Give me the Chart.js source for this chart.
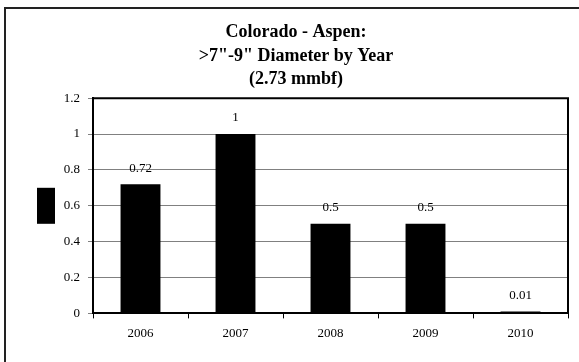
<!DOCTYPE html>
<html>
<head>
<meta charset="utf-8">
<script src="https://cdn.jsdelivr.net/npm/chart.js@4/dist/chart.umd.min.js"></script>
<style>
  html, body { margin: 0; padding: 0; background: #fff; }
  #wrap { position: relative; width: 579px; height: 362px; overflow: hidden; }
  #frame { position: absolute; left: 4px; top: 7px; width: 700px; height: 500px; border: 2px solid #222; }
  canvas { position: absolute; left: 0; top: 0; }
</style>
</head>
<body>
<div id="wrap">
  <div id="frame"></div>
  <canvas id="chart" width="579" height="362"></canvas>
</div>
<script>
// ---- data ----
const years = ['2006', '2007', '2008', '2009', '2010'];
const volumes = [0.72, 1, 0.5, 0.5, 0.01];
const volumeLabels = ['0.72', '1', '0.5', '0.5', '0.01'];
const yTickLabels = ['0', '0.2', '0.4', '0.6', '0.8', '1', '1.2'];
const titleLines = ['Colorado - Aspen:', '>7"-9" Diameter by Year', '(2.73 mmbf)'];

const serif = "'Liberation Serif', 'Times New Roman', serif";

// value labels above each bar
const barLabels = {
  id: 'barLabels',
  afterDatasetsDraw(chart) {
    const ctx = chart.ctx;
    const meta = chart.getDatasetMeta(0);
    ctx.save();
    ctx.font = '13px ' + serif;
    ctx.fillStyle = '#000';
    ctx.textAlign = 'center';
    ctx.textBaseline = 'middle';
    meta.data.forEach((bar, i) => {
      ctx.fillText(volumeLabels[i], bar.x, bar.y - 16);
    });
    ctx.restore();
  }
};

// black box round the plot area + the unlabeled legend swatch on the left
const plotFrame = {
  id: 'plotFrame',
  afterDraw(chart) {
    const a = chart.chartArea;
    const ctx = chart.ctx;
    ctx.save();
    ctx.strokeStyle = '#000';
    ctx.lineWidth = 2;
    ctx.beginPath();
    ctx.moveTo(a.left, a.top);
    ctx.lineTo(a.right, a.top);
    ctx.lineTo(a.right, a.bottom);
    ctx.stroke();
    // legend swatch (series has no name)
    const midY = (a.top + a.bottom) / 2;
    ctx.fillStyle = chart.data.datasets[0].backgroundColor;
    ctx.fillRect(a.left - 56, midY - 18, 18, 36);
    ctx.restore();
  }
};

new Chart(document.getElementById('chart').getContext('2d'), {
  type: 'bar',
  data: {
    labels: years,
    datasets: [{
      label: '',
      data: volumes,
      backgroundColor: '#000',
      borderWidth: 0,
      barPercentage: 0.42,
      categoryPercentage: 1
    }]
  },
  options: {
    responsive: false,
    animation: false,
    layout: { padding: { left: 24, right: 11, top: 0, bottom: 14 } },
    plugins: {
      tooltip: { enabled: false },
      legend: { display: false },
      title: {
        display: true,
        text: titleLines,
        color: '#000',
        font: { family: serif, size: 18, weight: 'bold', lineHeight: 1.3 },
        padding: { top: 21, bottom: 7 }
      }
    },
    scales: {
      x: {
        grid: { display: true, drawOnChartArea: false, drawTicks: true, tickLength: 5, color: '#000' },
        border: { display: true, color: '#000', width: 2 },
        ticks: { color: '#000', font: { family: serif, size: 13 }, padding: 7, maxRotation: 0 }
      },
      y: {
        min: 0,
        max: 1.2,
        afterFit: s => { s.width = 69; },
        grid: { color: '#808080', lineWidth: 1, tickLength: 5, tickColor: '#808080' },
        border: { display: true, color: '#000', width: 2 },
        ticks: {
          stepSize: 0.2,
          color: '#000',
          padding: 8,
          font: { family: serif, size: 13 },
          callback: (v, i) => yTickLabels[i]
        }
      }
    }
  },
  plugins: [barLabels, plotFrame]
});
</script>
</body>
</html>
